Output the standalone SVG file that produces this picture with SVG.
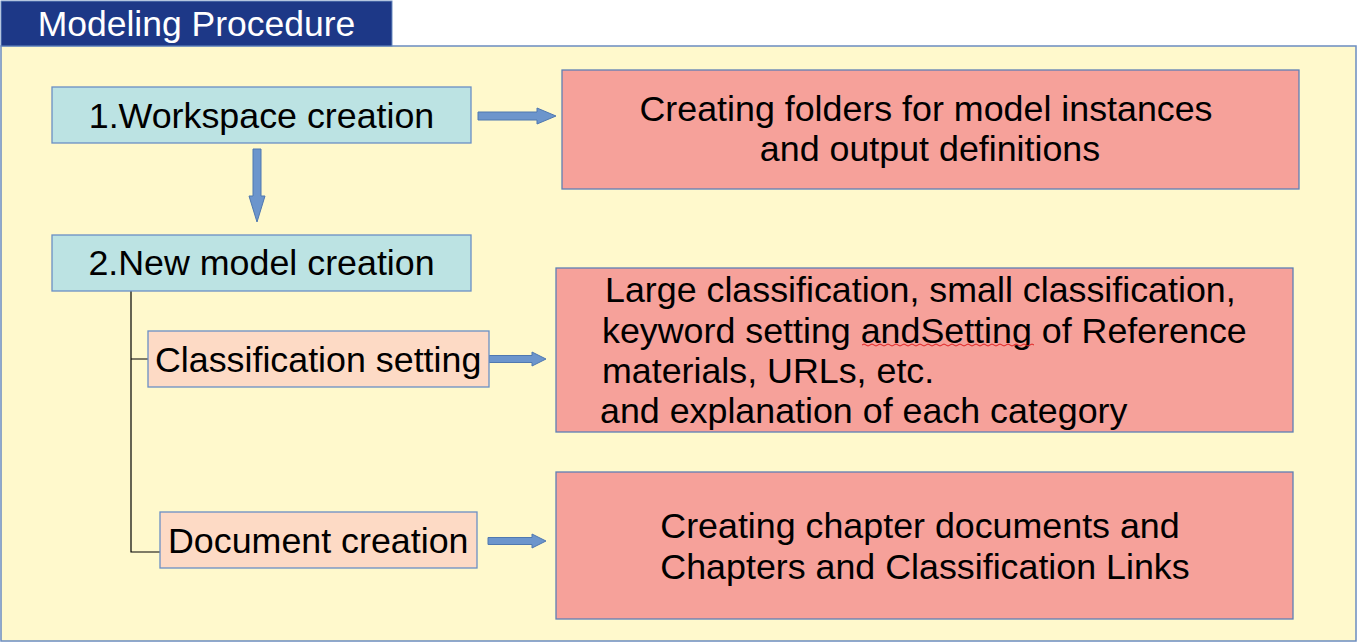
<svg xmlns="http://www.w3.org/2000/svg" width="1358" height="643" viewBox="0 0 1358 643">
<defs>
<style>
text{font-family:"Liberation Sans",Arial,sans-serif;font-size:35.8px;fill:#000}
.teal{fill:#bce3e3;stroke:#6a8fc5;stroke-width:1.3}
.peach{fill:#fddac5;stroke:#6a8fc5;stroke-width:1.3}
.red{fill:#f6a19a;stroke:#5f7fb5;stroke-width:1.3}
.arr{fill:#6c95cc;stroke:#4f78b0;stroke-width:1}
.ln{fill:none;stroke:#000;stroke-width:1.2}
</style>
</defs>
<rect x="1" y="46" width="1355" height="595" fill="#fff9cc" stroke="#6b8cc0" stroke-width="1.5"/>
<g id="title">
<rect x="1" y="1" width="391" height="45" fill="#1d3887" stroke="#6b8cc0" stroke-width="1"/>
<text x="196.5" y="36" text-anchor="middle" style="fill:#fff;font-size:35.5px">Modeling Procedure</text>
</g>
<g id="connectors">
<polygon class="arr" points="478,112 537,112 537,108 556,116 537,124 537,120 478,120"/>
<polygon class="arr" points="253,149 261,149 261,196 265,196 257,222 249,196 253,196"/>
<polygon class="arr" points="489,355.5 532,355.5 532,352 546,359 532,366 532,362.5 489,362.5"/>
<polygon class="arr" points="488,537.5 532,537.5 532,534 546,541 532,548 532,544.5 488,544.5"/>
<path class="ln" d="M131,291 V552 H160 M131,359 H149"/>
</g>
<g id="n1">
<rect class="teal" x="52" y="87" width="419" height="56"/>
<text x="261.5" y="128" text-anchor="middle">1.Workspace creation</text>
</g>
<g id="r1">
<rect class="red" x="562" y="70" width="737" height="119"/>
<text x="926" y="121" text-anchor="middle">Creating folders for model instances</text>
<text x="930" y="161" text-anchor="middle">and output definitions</text>
</g>
<g id="n2">
<rect class="teal" x="52" y="235" width="419" height="56"/>
<text x="261.5" y="275" text-anchor="middle">2.New model creation</text>
</g>
<g id="n3">
<rect class="peach" x="148" y="331" width="341" height="56"/>
<text x="155" y="372">Classification setting</text>
</g>
<g id="r2">
<rect class="red" x="556" y="268" width="737" height="164"/>
<text x="605" y="302">Large classification, small classification,</text>
<text x="602" y="343">keyword setting andSetting of Reference</text>
<text x="602" y="383">materials, URLs, etc.</text>
<text x="600" y="423">and explanation of each category</text>
<path d="M862,345 q2,-2 4,0 t4,0 t4,0 t4,0 t4,0 t4,0 t4,0 t4,0 t4,0 t4,0 t4,0 t4,0 t4,0 t4,0 t4,0 t4,0 t4,0 t4,0 t4,0 t4,0 t4,0 t4,0 t4,0 t4,0 t4,0 t4,0 t4,0 t4,0 t4,0 t4,0 t4,0 t4,0 t4,0 t4,0 t4,0 t4,0 t4,0 t4,0 t4,0 t4,0 t4,0 t4,0 t4,0" fill="none" stroke="#e02020" stroke-width="1"/>
</g>
<g id="n4">
<rect class="peach" x="160" y="512" width="317" height="56"/>
<text x="168" y="553">Document creation</text>
</g>
<g id="r3">
<rect class="red" x="556" y="472" width="737" height="147"/>
<text x="920" y="538" text-anchor="middle">Creating chapter documents and</text>
<text x="925" y="579" text-anchor="middle">Chapters and Classification Links</text>
</g>
</svg>
